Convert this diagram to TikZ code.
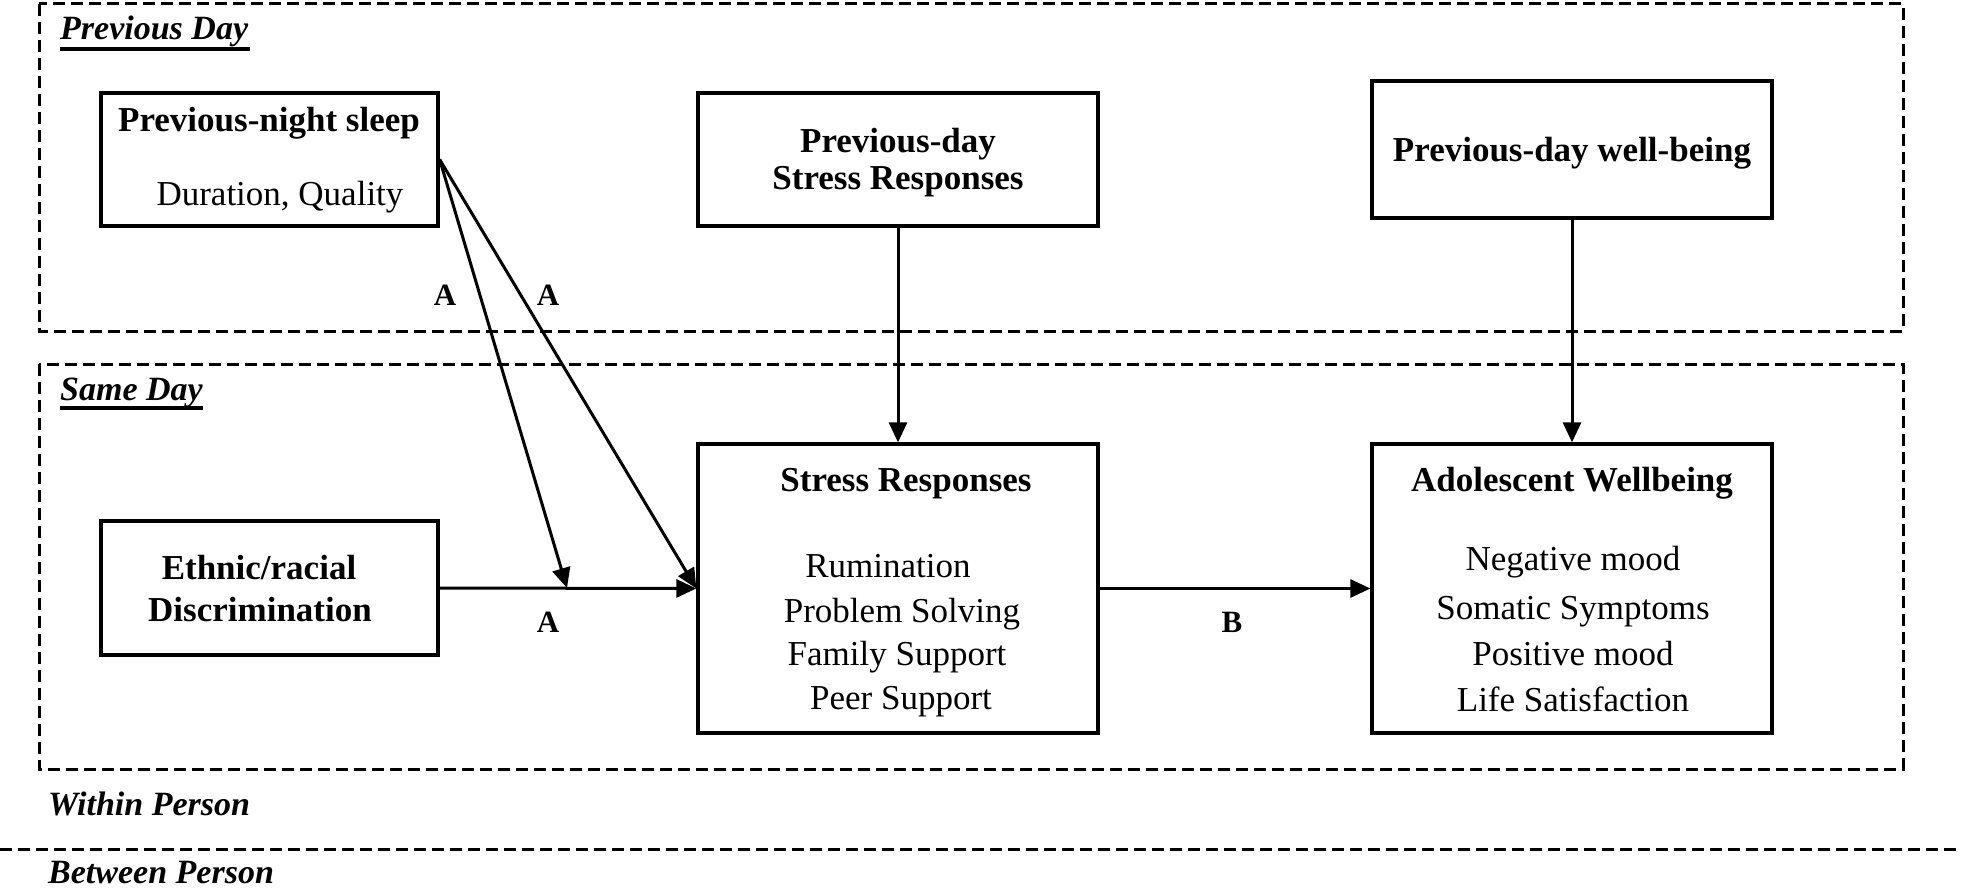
\documentclass[tikz,border=0pt]{standalone}
\usepackage{fontspec}
\setmainfont{Liberation Serif}
\usetikzlibrary{arrows.meta}
\begin{document}
\begin{tikzpicture}[x=1pt,y=-1pt,
  box/.style={draw,line width=3.3pt,inner sep=0pt},
  frame/.style={draw,line width=3pt,dash pattern=on 12pt off 6pt},
  conn/.style={line width=3pt,-{Triangle[length=20pt,width=18pt]}},
  tb/.style={anchor=base,inner sep=0pt,font=\fontsize{35}{42}\selectfont\bfseries},
  tr/.style={anchor=base,inner sep=0pt,font=\fontsize{35}{42}\selectfont},
  sec/.style={anchor=base west,inner sep=0pt,font=\fontsize{34}{40}\selectfont\bfseries\itshape},
  pl/.style={inner sep=0pt,font=\fontsize{31}{36}\selectfont\bfseries}]
\useasboundingbox (0,0) rectangle (1961,893);
% frames
\draw[frame] (39,4) rectangle (1903,331);
\draw[frame] (39,364) rectangle (1903,769);
\draw[frame] (0,849) -- (1961,849);
% section labels
\node[sec] (pd) at (60,40) {Previous Day};
\draw[line width=3.5pt] (60,49) -- (250,49);
\node[sec] (sd) at (60,400) {Same Day};
\draw[line width=3.5pt] (60,408) -- (203,408);
\node[sec] (wp) at (48,815) {Within Person};
\node[sec] (bp) at (48,883) {Between Person};
% boxes
\node[box,minimum width=337pt,minimum height=133pt] (sleep) at (269.5,159.5) {};
\node[box,minimum width=400pt,minimum height=133pt] (pstress) at (898,159.5) {};
\node[box,minimum width=400pt,minimum height=137pt] (pwell) at (1572,149.5) {};
\node[box,minimum width=337pt,minimum height=134pt] (ethnic) at (269.5,588) {};
\node[box,minimum width=400pt,minimum height=289pt] (stress) at (898,588.5) {};
\node[box,minimum width=400pt,minimum height=289pt] (well) at (1572,588.5) {};
% texts
\node[tb] (t1) at (269,132) {Previous-night sleep};
\node[tr] (t2) at (280,206) {Duration, Quality};
\node[tb] (t3) at (898,153) {Previous-day};
\node[tb] (t4) at (898,190) {Stress Responses};
\node[tb] (t5) at (1572,162) {Previous-day well-being};
\node[tb] (t6) at (259,579) {Ethnic/racial};
\node[tb] (t7) at (260,621) {Discrimination};
\node[tb] (t8) at (906,491) {Stress Responses};
\node[tr] (t9) at (888,577) {Rumination};
\node[tr] (t10) at (902,622) {Problem Solving};
\node[tr] (t11) at (897,665) {Family Support};
\node[tr] (t12) at (901,709) {Peer Support};
\node[tb] (t13) at (1572,491) {Adolescent Wellbeing};
\node[tr] (t14) at (1573,570) {Negative mood};
\node[tr] (t15) at (1573,619) {Somatic Symptoms};
\node[tr] (t16) at (1573,665) {Positive mood};
\node[tr] (t17) at (1573,711) {Life Satisfaction};
% connectors
\coordinate (mod) at (567,588);
\draw[conn] (ethnic.east) -- (stress.west);
\draw[conn] (sleep.east) -- (mod);
\draw[conn] (sleep.east) -- (stress.west);
\draw[conn] (pstress.south) -- (stress.north);
\draw[conn] (pwell.south) -- (well.north);
\draw[conn] (stress.east) -- (well.west);
% path labels
\node[pl] (a1) at (445,295) {A};
\node[pl] (a2) at (548,295) {A};
\node[pl] (a3) at (548,622) {A};
\node[pl] (b1) at (1232,622) {B};
\end{tikzpicture}
\end{document}
